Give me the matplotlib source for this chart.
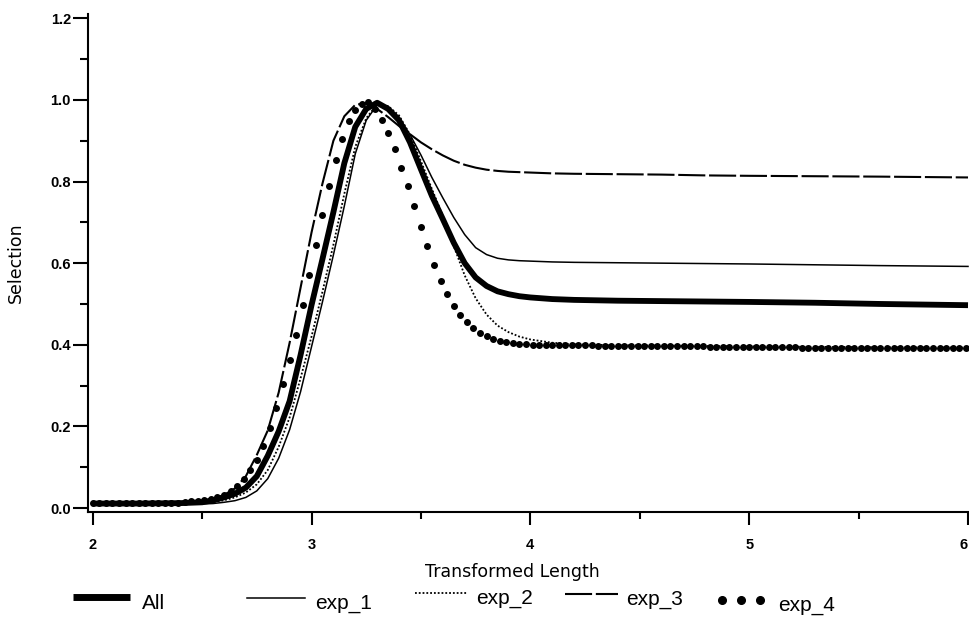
#------------------------------------------------imports---------------------------------------------------------------
import numpy as np
import matplotlib
matplotlib.use("Agg")
import matplotlib.pyplot as plt
from matplotlib.lines import Line2D
from matplotlib.ticker import MultipleLocator, FormatStrFormatter

#--------------------------------------------------data----------------------------------------------------------------
length = [2.0, 2.2, 2.4, 2.5, 2.55, 2.6, 2.65, 2.7, 2.75, 2.8, 2.85, 2.9, 2.95, 3.0, 3.05, 3.1, 3.15,
          3.2, 3.25, 3.3, 3.35, 3.4, 3.45, 3.5, 3.55, 3.6, 3.65, 3.7, 3.75, 3.8, 3.85, 3.9, 3.95, 4.0,
          4.1, 4.2, 4.4, 4.6, 4.8, 5.0, 5.3, 5.6, 6.0]

sel_all = [0.011, 0.011, 0.012, 0.014, 0.019, 0.026, 0.035, 0.050, 0.078, 0.128, 0.188, 0.262, 0.375,
           0.497, 0.610, 0.725, 0.845, 0.934, 0.978, 0.993, 0.978, 0.950, 0.896, 0.830, 0.765, 0.708,
           0.650, 0.600, 0.565, 0.544, 0.531, 0.524, 0.519, 0.516, 0.512, 0.510, 0.508, 0.507, 0.506,
           0.505, 0.503, 0.500, 0.497]

sel_exp1 = [0.009, 0.009, 0.009, 0.010, 0.011, 0.014, 0.018, 0.026, 0.042, 0.072, 0.122, 0.192, 0.285,
            0.395, 0.505, 0.620, 0.740, 0.868, 0.950, 0.988, 0.982, 0.958, 0.915, 0.865, 0.810, 0.760,
            0.712, 0.670, 0.638, 0.621, 0.612, 0.608, 0.606, 0.605, 0.603, 0.602, 0.601, 0.600, 0.599,
            0.598, 0.596, 0.594, 0.592]

sel_exp2 = [0.010, 0.010, 0.010, 0.011, 0.014, 0.019, 0.026, 0.038, 0.058, 0.093, 0.150, 0.222, 0.318,
            0.420, 0.530, 0.645, 0.770, 0.885, 0.955, 0.990, 0.985, 0.962, 0.915, 0.850, 0.782, 0.716,
            0.642, 0.570, 0.514, 0.474, 0.447, 0.431, 0.420, 0.413, 0.405, 0.401, 0.399, 0.398, 0.397,
            0.396, 0.395, 0.394, 0.393]

sel_exp3 = [0.012, 0.012, 0.013, 0.016, 0.022, 0.032, 0.048, 0.078, 0.130, 0.190, 0.283, 0.405, 0.540,
            0.675, 0.795, 0.900, 0.960, 0.988, 0.992, 0.978, 0.958, 0.936, 0.916, 0.896, 0.879, 0.864,
            0.851, 0.841, 0.834, 0.829, 0.826, 0.824, 0.823, 0.822, 0.820, 0.819, 0.818, 0.817, 0.815,
            0.814, 0.813, 0.812, 0.810]

# exp_4 is sampled every 0.03 from 2.0
exp4_start = 2.0
exp4_step = 0.03
sel_exp4 = [0.012, 0.012, 0.012, 0.012, 0.012, 0.012, 0.012, 0.012, 0.012, 0.012,
            0.012, 0.012, 0.013, 0.013, 0.014, 0.016, 0.018, 0.020, 0.023, 0.027,
            0.033, 0.041, 0.053, 0.070, 0.093, 0.118, 0.152, 0.195, 0.245, 0.305,
            0.362, 0.425, 0.498, 0.570, 0.645, 0.718, 0.790, 0.852, 0.905, 0.948,
            0.976, 0.990, 0.994, 0.978, 0.950, 0.918, 0.880, 0.833, 0.789, 0.739,
            0.688, 0.642, 0.595, 0.556, 0.524, 0.496, 0.474, 0.456, 0.442, 0.430,
            0.422, 0.415, 0.410, 0.406, 0.404, 0.402, 0.401,
            0.400, 0.400, 0.400, 0.400, 0.399, 0.399, 0.399, 0.399, 0.399, 0.399,
            0.398, 0.398, 0.398, 0.398, 0.398, 0.397, 0.397, 0.397, 0.397, 0.397,
            0.397, 0.396, 0.396, 0.396, 0.396, 0.396, 0.396, 0.395, 0.395, 0.395,
            0.395, 0.395, 0.395, 0.395, 0.394, 0.394, 0.394, 0.394, 0.394, 0.394,
            0.394, 0.393, 0.393, 0.393, 0.393, 0.393, 0.393, 0.393, 0.393, 0.393,
            0.393, 0.392, 0.392, 0.392, 0.392, 0.392, 0.392, 0.392, 0.392, 0.392,
            0.392, 0.392, 0.392, 0.391, 0.391, 0.391, 0.391]
length4 = exp4_start + exp4_step * np.arange(len(sel_exp4))

#--------------------------------------------------figure--------------------------------------------------------------
W, H = 970, 623
fig = plt.figure(figsize=(W / 100, H / 100), dpi=100)
fig.patch.set_facecolor("white")
ax = fig.add_axes([88.3 / W, 1 - 511.7 / H, (970.2 - 88.3) / W, (511.7 - 14) / H])

#---------------------------------------------------plotting-----------------------------------------------------------
ax.plot(length, sel_all, color="black", lw=4.2, solid_capstyle="butt", solid_joinstyle="round")
ax.plot(length, sel_exp1, color="black", lw=1.1)
ax.plot(length, sel_exp2, color="black", lw=1.3, linestyle=(0, (1, 1.1)))
ax.plot(length, sel_exp3, color="black", lw=1.5, linestyle=(0, (13, 1.8)))
ax.plot(length4, sel_exp4, linestyle="none", marker="o", ms=4.0, color="black", mec="black")

#---------------------------------------------------axes---------------------------------------------------------------
ax.set_xlim(1.98, 6.01)
ax.set_ylim(-0.009, 1.2105)
for side in ("top", "right"):
    ax.spines[side].set_visible(False)
for side in ("left", "bottom"):
    ax.spines[side].set_linewidth(1.5)

ax.set_xticks([2, 3, 4, 5, 6])
ax.xaxis.set_minor_locator(MultipleLocator(0.5))
ax.yaxis.set_major_locator(MultipleLocator(0.2))
ax.yaxis.set_minor_locator(MultipleLocator(0.1))
ax.yaxis.set_major_formatter(FormatStrFormatter("%.1f"))
ax.xaxis.set_major_formatter(FormatStrFormatter("%d"))

ax.tick_params(axis="y", which="major", direction="out", length=10.5, width=1.5, pad=2)
ax.tick_params(axis="y", which="minor", direction="out", length=5.5, width=1.5)
ax.tick_params(axis="x", which="major", direction="out", length=9, width=1.5, pad=10)
ax.tick_params(axis="x", which="minor", direction="out", length=5, width=1.5)

fig.canvas.draw()
for lab in ax.get_xticklabels() + ax.get_yticklabels():
    lab.set_family("Liberation Sans")
    lab.set_fontweight("bold")
    lab.set_fontsize(10.5)
# the "6" sits on the figure edge, keep it inside
for lab in ax.get_xticklabels():
    if lab.get_text() == "6":
        lab.set_horizontalalignment("right")

ax.set_ylabel("Selection", fontsize=12.5, family="DejaVu Sans")
ax.yaxis.set_label_coords(-0.072, 0.5)
ax.set_xlabel("Transformed Length", fontsize=12.5, family="DejaVu Sans", va="top")
ax.xaxis.set_label_coords(0.481, -0.103)

#---------------------------------------------------legend-------------------------------------------------------------
def fx(px):
    return px / W

def fy(py):
    return 1 - py / H

legend_font = dict(family="Liberation Sans", fontsize=15, va="baseline", ha="left")

fig.add_artist(Line2D([fx(73), fx(130)], [fy(597), fy(597)], color="black", lw=5.0,
                      solid_capstyle="butt", transform=fig.transFigure))
fig.text(fx(142), fy(609), "All", **legend_font)

fig.add_artist(Line2D([fx(247), fx(305)], [fy(598), fy(598)], color="black", lw=1.1,
                      transform=fig.transFigure))
fig.text(fx(315), fy(609), "exp_1", **legend_font)

fig.add_artist(Line2D([fx(415), fx(468)], [fy(593), fy(593)], color="black", lw=1.3,
                      linestyle=(0, (1, 1.1)), transform=fig.transFigure))
fig.text(fx(476), fy(604), "exp_2", **legend_font)

fig.add_artist(Line2D([fx(565), fx(618)], [fy(594), fy(594)], color="black", lw=1.5,
                      linestyle=(0, (13, 1.8)), transform=fig.transFigure))
fig.text(fx(626), fy(605), "exp_3", **legend_font)

fig.add_artist(Line2D([fx(722), fx(741), fx(760)], [fy(600)] * 3, linestyle="none", marker="o",
                      ms=5.5, color="black", transform=fig.transFigure))
fig.text(fx(778), fy(611), "exp_4", **legend_font)

#----------------------------------------------------saving------------------------------------------------------------
fig.savefig("out.png", dpi=100, facecolor="white")
